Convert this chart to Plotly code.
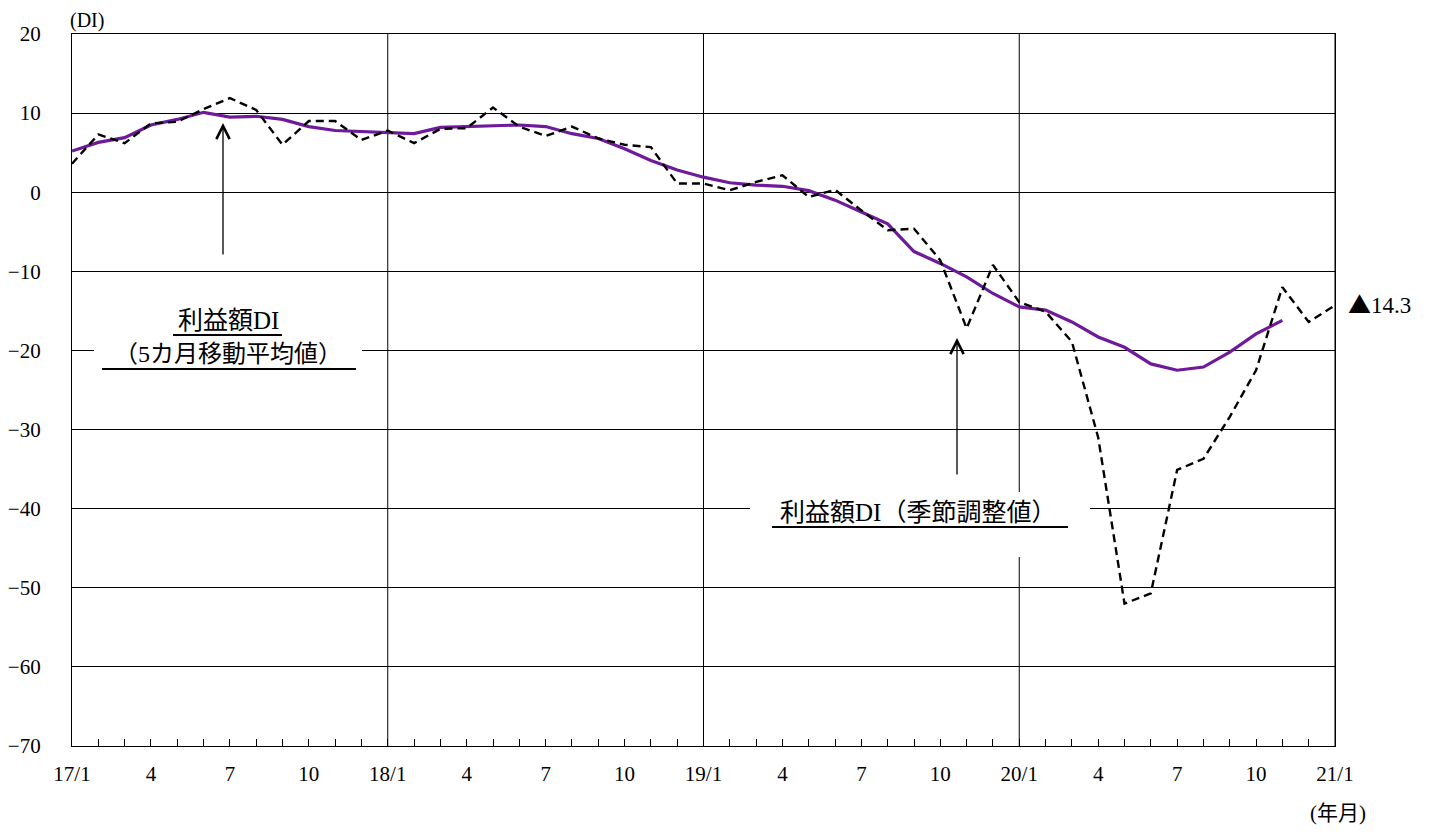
import plotly.graph_objects as go

# ---- data (month index 0 = 2017/1 ... 48 = 2021/1) ----
month_index = list(range(49))
tick_text = ["17/1", "", "", "4", "", "", "7", "", "", "10", "", "",
             "18/1", "", "", "4", "", "", "7", "", "", "10", "", "",
             "19/1", "", "", "4", "", "", "7", "", "", "10", "", "",
             "20/1", "", "", "4", "", "", "7", "", "", "10", "", "",
             "21/1"]
year_starts = [12, 24, 36, 48]

di_seasonal = [3.6, 7.3, 6.2, 8.7, 8.9, 10.5, 11.9, 10.4, 6.0, 9.0, 9.0, 6.6,
               7.8, 6.2, 8.0, 8.1, 10.7, 8.3, 7.1, 8.3, 6.8, 6.0, 5.7, 1.1,
               1.1, 0.25, 1.3, 2.15, -0.6, 0.3, -2.3, -4.8, -4.6, -8.6, -17.2, -9.2,
               -13.9, -15.1, -18.9, -31.0, -52.0, -50.7, -35.1, -33.7, -28.4, -22.5, -12.0, -16.4,
               -14.3]
di_ma5 = [5.2, 6.3, 6.9, 8.5, 9.2, 10.1, 9.5, 9.6, 9.2, 8.3, 7.8, 7.7,
          7.5, 7.4, 8.2, 8.3, 8.5, 8.5, 8.3, 7.4, 6.8, 5.5, 4.0, 2.8,
          1.9, 1.2, 0.9, 0.75, 0.2, -1.0, -2.5, -4.0, -7.5, -9.0, -10.7, -12.8,
          -14.5, -14.9, -16.4, -18.3, -19.6, -21.7, -22.5, -22.1, -20.2, -17.9, -16.2]

y_ticks = [20, 10, 0, -10, -20, -30, -40, -50, -60, -70]

# ---- layout geometry (page body has an 8px default margin) ----
OFF = 8
W, H = 1438 - 2 * OFF, 832 - 12
L, R, T, B = 72, 1335, 34, 746   # plot area in window pixels


def px(xp):
    return (xp - L) / (R - L)


def py(yp):
    return (B - yp) / (B - T)


SERIF = "Liberation Serif, Noto Sans CJK JP, serif"
TXT = "Liberation Serif, Noto Sans CJK JP, serif"

fig = go.Figure()
fig.add_trace(go.Scatter(x=month_index[:len(di_ma5)], y=di_ma5, mode="lines",
                         line=dict(color="#6E1A9A", width=3.2), showlegend=False))
fig.add_trace(go.Scatter(x=month_index, y=di_seasonal, mode="lines",
                         line=dict(color="black", width=2.4, dash="8px,5px"), showlegend=False))

shapes = []
for xs in year_starts:
    shapes.append(dict(type="line", xref="x", yref="paper", x0=xs, x1=xs, y0=0, y1=1,
                       line=dict(color="black", width=1), layer="below"))
# white boxes behind labels
shapes.append(dict(type="rect", xref="paper", yref="paper", x0=px(94), x1=px(362),
                   y0=py(378), y1=py(300), fillcolor="white", line=dict(width=0), layer="above"))
shapes.append(dict(type="rect", xref="paper", yref="paper", x0=px(750), x1=px(1090),
                   y0=py(557), y1=py(492), fillcolor="white", line=dict(width=0), layer="above"))
# underlines
for x0, x1, yy in [(173, 282, 335), (102, 356, 369), (772, 1068, 527)]:
    shapes.append(dict(type="line", xref="paper", yref="paper", x0=px(x0), x1=px(x1),
                       y0=py(yy), y1=py(yy), line=dict(color="black", width=2), layer="above"))

annotations = [
    dict(text="利益額DI", x=px(228), y=py(321), xref="paper", yref="paper", showarrow=False,
         font=dict(family=TXT, size=25, color="black"), xanchor="center", yanchor="middle"),
    dict(text="（5カ月移動平均値）", x=px(228), y=py(354), xref="paper", yref="paper", showarrow=False,
         font=dict(family=TXT, size=24, color="black"), xanchor="center", yanchor="middle"),
    dict(text="利益額DI（季節調整値）", x=px(918), y=py(512), xref="paper", yref="paper", showarrow=False,
         font=dict(family=TXT, size=25, color="black"), xanchor="center", yanchor="middle"),
    dict(text="", x=px(223), y=py(123), xref="paper", yref="paper", showarrow=True,
         ax=0, ay=133, axref="pixel", ayref="pixel", arrowhead=5, arrowsize=2,
         arrowwidth=1.3, arrowcolor="black"),
    dict(text="", x=px(957), y=py(338), xref="paper", yref="paper", showarrow=True,
         ax=0, ay=138, axref="pixel", ayref="pixel", arrowhead=5, arrowsize=2,
         arrowwidth=1.3, arrowcolor="black"),
    dict(text="<span style='font-family:Noto Sans CJK JP'>▲</span>14.3", x=px(1346), y=py(303),
         xref="paper", yref="paper", showarrow=False,
         font=dict(family=SERIF, size=23, color="black"), xanchor="left", yanchor="middle"),
    dict(text="(DI)", x=px(68), y=py(21), xref="paper", yref="paper", showarrow=False,
         font=dict(family=SERIF, size=20, color="black"), xanchor="left", yanchor="middle"),
    dict(text="(年月)", x=px(1338), y=py(813), xref="paper", yref="paper", showarrow=False,
         font=dict(family=TXT, size=21, color="black"), xanchor="center", yanchor="middle"),
]

fig.update_layout(
    width=W, height=H,
    margin=dict(l=L - OFF, r=(W + OFF) - R, t=T - OFF, b=(H + OFF) - B, pad=0),
    paper_bgcolor="white", plot_bgcolor="white",
    shapes=shapes, annotations=annotations,
    xaxis=dict(range=[0, 48], tickvals=month_index, ticktext=tick_text,
               ticks="inside", ticklen=7, tickcolor="black", tickwidth=1,
               showgrid=False, zeroline=False, showline=True, linecolor="black",
               linewidth=1.2, mirror=True, automargin=False,
               tickfont=dict(family=SERIF, size=21, color="black"),
               ticklabelstandoff=9),
    yaxis=dict(range=[-70, 20], tickvals=y_ticks, showgrid=True, gridcolor="black",
               gridwidth=1, zeroline=False, showline=True, linecolor="black",
               linewidth=1.2, mirror=True, ticks="", automargin=False,
               tickfont=dict(family=SERIF, size=21, color="black"),
               ticklabelstandoff=26),
)

fig.write_html("out.html")
